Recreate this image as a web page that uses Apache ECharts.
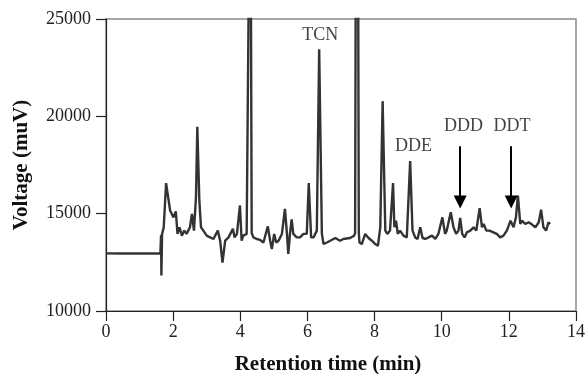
<!DOCTYPE html>
<html>
<head>
<meta charset="utf-8">
<script src="https://cdn.jsdelivr.net/npm/echarts@6/dist/echarts.min.js"></script>
<style>html,body{margin:0;padding:0;background:#fff}#c{width:586px;height:374px}</style>
</head>
<body>
<div id="c"></div>
<script>
// Retention time (min)
const times = [0, 0.5, 1.0, 1.5, 1.62, 1.64, 1.65, 1.67, 1.72, 1.79, 1.91, 2.01, 2.08, 2.13, 2.19, 2.26, 2.33, 2.40, 2.50, 2.56, 2.62, 2.68, 2.72, 2.78, 2.83, 2.90, 3.00, 3.10, 3.20, 3.33, 3.40, 3.47, 3.55, 3.65, 3.78, 3.83, 3.90, 3.99, 4.04, 4.09, 4.19, 4.24, 4.27, 4.29, 4.31, 4.34, 4.39, 4.49, 4.59, 4.69, 4.82, 4.89, 4.94, 5.01, 5.07, 5.14, 5.24, 5.33, 5.39, 5.43, 5.48, 5.53, 5.58, 5.68, 5.78, 5.88, 5.98, 6.04, 6.11, 6.18, 6.28, 6.35, 6.43, 6.48, 6.58, 6.68, 6.83, 6.97, 7.07, 7.27, 7.39, 7.42, 7.45, 7.47, 7.50, 7.53, 7.55, 7.62, 7.72, 7.82, 7.92, 8.02, 8.10, 8.17, 8.24, 8.32, 8.38, 8.46, 8.55, 8.59, 8.64, 8.69, 8.76, 8.86, 8.96, 9.06, 9.13, 9.21, 9.28, 9.36, 9.43, 9.51, 9.61, 9.71, 9.81, 9.90, 10.02, 10.10, 10.15, 10.27, 10.35, 10.43, 10.50, 10.55, 10.61, 10.68, 10.75, 10.85, 10.95, 11.03, 11.13, 11.20, 11.25, 11.33, 11.42, 11.54, 11.64, 11.74, 11.84, 11.94, 12.05, 12.14, 12.21, 12.27, 12.34, 12.39, 12.49, 12.59, 12.69, 12.79, 12.89, 12.96, 13.03, 13.11, 13.18, 13.23];
// Voltage (muV)
const volts = [12960, 12950, 12960, 12950, 12960, 13900, 11820, 13950, 14300, 16570, 15160, 14810, 15120, 13960, 14300, 13870, 14130, 13960, 14300, 14990, 14130, 15850, 19460, 15680, 14300, 14130, 13870, 13780, 13700, 14130, 13610, 12490, 13610, 13780, 14220, 13780, 13960, 15420, 13610, 13870, 13960, 14000, 30000, 40000, 30000, 14000, 13780, 13700, 13650, 13520, 14350, 13610, 13180, 13960, 13520, 13610, 13960, 15250, 13960, 12930, 13960, 14710, 13960, 13780, 13780, 13960, 13960, 16570, 13780, 13780, 14130, 23450, 13960, 13440, 13520, 13610, 13750, 13610, 13700, 13750, 13870, 14000, 35000, 40000, 35000, 14000, 13520, 13440, 13960, 13750, 13610, 13440, 13350, 14300, 20780, 14130, 13960, 14130, 16570, 14300, 14640, 13960, 14130, 13870, 13780, 17700, 14130, 13780, 13700, 14300, 13750, 13700, 13780, 13870, 13700, 13960, 14810, 13960, 14130, 15070, 14300, 13960, 14130, 14780, 13960, 13780, 14040, 14130, 14300, 14130, 15280, 14300, 14470, 14130, 14130, 14040, 13960, 13780, 13870, 14130, 14640, 14300, 14810, 15930, 14470, 14640, 14470, 14560, 14440, 14300, 14560, 15200, 14300, 14130, 14560, 14470];

const xTicks = [0, 2, 4, 6, 8, 10, 12, 14];
const yTicks = [10000, 15000, 20000, 25000];

// Peak annotations
const labelNames = ['TCN', 'DDE', 'DDD', 'DDT'];
const labelX = [6.38, 9.16, 10.65, 12.09];
const labelY = [24150, 18460, 19490, 19490];

// Arrows (time, top, bottom)
const arrowX = [10.55, 12.07];
const arrowTop = [18460, 18460];
const arrowBottom = [15600, 15600];

const FONT = 'Liberation Serif';
const chart = echarts.init(document.getElementById('c'), null, {renderer: 'canvas'});
const lineData = times.map((t, i) => [t, volts[i]]);
const labelData = labelNames.map((n, i) => ({value: [labelX[i], labelY[i]], name: n}));
const arrowData = arrowX.map((x, i) => [{coord: [x, arrowTop[i]]}, {coord: [x, arrowBottom[i]]}]);

chart.setOption({
  animation: false,
  grid: {left: 106, right: 10, top: 19, bottom: 63, outerBoundsMode: 'none', containLabel: false, show: true, borderColor: '#8a8a8a', borderWidth: 1.5, backgroundColor: 'transparent'},
  xAxis: {
    type: 'value', min: xTicks[0], max: xTicks[xTicks.length - 1], interval: 2,
    name: 'Retention time (min)', nameLocation: 'middle', nameGap: 43,
    nameTextStyle: {fontFamily: FONT, fontWeight: 'bold', fontSize: 21, color: '#111', padding: [0, 26, 0, 0]},
    axisLine: {lineStyle: {color: '#222', width: 1.2}},
    axisTick: {show: true, inside: false, length: 10, lineStyle: {color: '#222', width: 1.2}},
    axisLabel: {fontFamily: FONT, fontSize: 18, color: '#222', margin: 12},
    splitLine: {show: false}
  },
  yAxis: {
    type: 'value', min: yTicks[0], max: yTicks[yTicks.length - 1], interval: 5000,
    name: 'Voltage (muV)', nameLocation: 'middle', nameGap: 74,
    nameTextStyle: {fontFamily: FONT, fontWeight: 'bold', fontSize: 21, color: '#111'},
    axisLine: {show: true, lineStyle: {color: '#222', width: 1.2}},
    axisTick: {show: true, inside: false, length: 10, lineStyle: {color: '#222', width: 1.2}},
    axisLabel: {fontFamily: FONT, fontSize: 18, color: '#222', margin: 15, formatter: v => String(v)},
    splitLine: {show: false}
  },
  series: [
    {
      type: 'line', data: lineData, symbol: 'none', clip: true,
      lineStyle: {color: '#333', width: 2.4},
      markLine: {
        silent: true, symbol: ['none', 'triangle'], symbolSize: 13,
        label: {show: false},
        lineStyle: {color: '#000', width: 2, type: 'solid'},
        data: arrowData
      }
    },
    {
      type: 'scatter', data: labelData, symbolSize: 0, silent: true,
      label: {show: true, position: 'inside', formatter: p => p.name, fontFamily: FONT, fontSize: 18, color: '#111'}
    }
  ]
});
</script>
</body>
</html>
